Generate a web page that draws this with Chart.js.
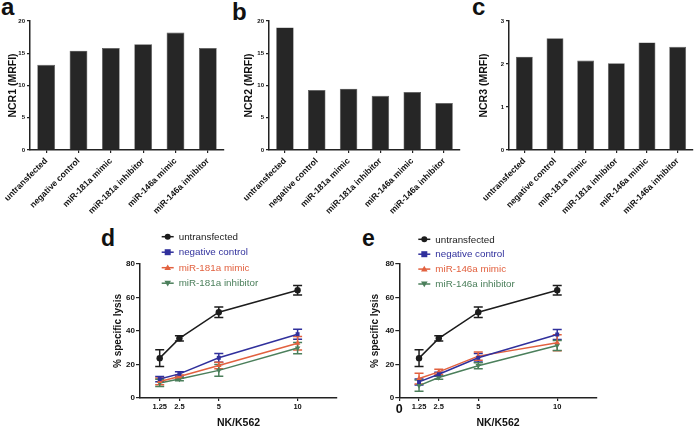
<!DOCTYPE html>
<html>
<head>
<title>NCR expression and NK lysis</title>
<script src="https://cdn.jsdelivr.net/npm/chart.js@4.4.1/dist/chart.umd.min.js"></script>
<style>
    body {
        margin: 0;
        background: #fff;
        width: 700px;
        height: 429px;
        position: relative;
        overflow: hidden;
        font-family: "Liberation Sans", Arial, sans-serif;
    }
    canvas { position: absolute; }
    .tag {
        position: absolute;
        font-weight: bold;
        line-height: 1;
        color: #111;
    }
</style>
</head>
<body>
<div class="tag" style="left:1px;top:-5px;font-size:24px">a</div>
<div class="tag" style="left:232px;top:0px;font-size:24px">b</div>
<div class="tag" style="left:472px;top:-5px;font-size:24px">c</div>
<div class="tag" style="left:101px;top:227px;font-size:23px">d</div>
<div class="tag" style="left:362px;top:227px;font-size:23px">e</div>

<canvas id="chartA" width="232" height="216" style="left:0;top:0"></canvas>
<canvas id="chartB" width="230" height="216" style="left:232px;top:0"></canvas>
<canvas id="chartC" width="238" height="216" style="left:462px;top:0"></canvas>
<canvas id="chartD" width="270" height="219" style="left:80px;top:210px"></canvas>
<canvas id="chartE" width="250" height="219" style="left:360px;top:210px"></canvas>

<script>
    // Gruppen der Balkendiagramme
    const groups = ['untransfected', 'negative control', 'miR-181a mimic',
        'miR-181a inhibitor', 'miR-146a mimic', 'miR-146a inhibitor'];

    // NCR-Expression (MRFI)
    const ncr1 = [13.2, 15.4, 15.8, 16.4, 18.2, 15.8];
    const ncr2 = [19.0, 9.3, 9.5, 8.4, 9.0, 7.3];
    const ncr3 = [2.17, 2.6, 2.08, 2.02, 2.5, 2.4];

    // Lyse-Kurven: NK/K562 Verhaeltnis
    const ratios = [1.25, 2.5, 5, 10];
    const ticksD = [1.25, 2.5, 5, 10];
    const ticksE = [0, 1.25, 2.5, 5, 10];

    const untransfected = [23.8, 35.6, 51.2, 64.3];
    const untransfectedErr = [5.0, 1.6, 3.2, 2.8];

    const negCtrlD = [11.3, 14.4, 24.0, 38.1];
    const negCtrlDErr = [1.6, 1.2, 2.6, 3.0];
    const mimic181 = [9.9, 12.8, 19.4, 32.7];
    const mimic181Err = [2.0, 1.0, 2.0, 4.0];
    const inhib181 = [9.0, 11.3, 16.5, 29.8];
    const inhib181Err = [2.2, 1.0, 3.5, 3.4];

    const negCtrlE = [9.6, 14.2, 24.0, 37.9];
    const negCtrlEErr = [1.8, 1.2, 2.5, 3.0];
    const mimic146 = [11.6, 15.6, 25.0, 33.0];
    const mimic146Err = [3.2, 1.6, 2.5, 4.8];
    const inhib146 = [7.4, 12.2, 19.3, 31.4];
    const inhib146Err = [3.3, 1.0, 1.8, 3.0];

    const colBlack = '#1c1c1c';
    const colBlue = '#30309c';
    const colOrange = '#e2613f';
    const colGreen = '#4b7f5b';

    Chart.defaults.font.family = '"Liberation Sans", Arial, sans-serif';
    Chart.defaults.color = '#111';

    // Fehlerbalken (Mittelwert +/- Fehler) ueber die Skalen zeichnen
    const errorBars = {
        id: 'errorBars',
        beforeDatasetsDraw(chart) {
            const ctx = chart.ctx;
            const xs = chart.scales.x;
            const ys = chart.scales.y;
            chart.data.datasets.forEach(ds => {
                if (!ds.errors) return;
                ctx.save();
                ctx.strokeStyle = ds.borderColor;
                ctx.lineWidth = 1.5;
                ds.data.forEach((p, j) => {
                    const px = xs.getPixelForValue(p.x);
                    const top = ys.getPixelForValue(p.y + ds.errors[j]);
                    const bot = ys.getPixelForValue(p.y - ds.errors[j]);
                    ctx.beginPath();
                    ctx.moveTo(px, top);
                    ctx.lineTo(px, bot);
                    ctx.moveTo(px - 4.5, top);
                    ctx.lineTo(px + 4.5, top);
                    ctx.moveTo(px - 4.5, bot);
                    ctx.lineTo(px + 4.5, bot);
                    ctx.stroke();
                });
                ctx.restore();
            });
        }
    };

    function marker(ctx, style, rot, x, y, r) {
        ctx.beginPath();
        if (style === 'circle') {
            ctx.arc(x, y, r, 0, Math.PI * 2);
        } else if (style === 'rect') {
            ctx.rect(x - r, y - r, r * 2, r * 2);
        } else {
            const s = rot === 180 ? -1 : 1;
            ctx.moveTo(x, y - s * r * 1.1);
            ctx.lineTo(x - r * 1.1, y + s * r * 0.8);
            ctx.lineTo(x + r * 1.1, y + s * r * 0.8);
            ctx.closePath();
        }
        ctx.fill();
    }

    // Legende oben links im Panel
    const panelLegend = {
        id: 'panelLegend',
        afterDraw(chart, args, opts) {
            const ctx = chart.ctx;
            chart.data.datasets.forEach((ds, i) => {
                const y = opts.top + i * opts.rowHeight;
                ctx.save();
                ctx.strokeStyle = ds.borderColor;
                ctx.fillStyle = ds.borderColor;
                ctx.lineWidth = 1.5;
                ctx.beginPath();
                ctx.moveTo(opts.left, y);
                ctx.lineTo(opts.left + 12, y);
                ctx.stroke();
                marker(ctx, ds.pointStyle, ds.pointRotation || 0, opts.left + 6, y, 3);
                ctx.font = '9.8px "Liberation Sans", Arial, sans-serif';
                ctx.textBaseline = 'middle';
                ctx.fillText(ds.label, opts.left + 17, y + 0.5);
                ctx.restore();
            });
        }
    };

    function barChart(id, values, title, max, step, yWidth, titlePad, padRight) {
        return new Chart(document.getElementById(id), {
            type: 'bar',
            data: {
                labels: groups,
                datasets: [{
                    data: values,
                    backgroundColor: '#262626',
                    borderColor: '#555',
                    borderWidth: 0.6,
                    barPercentage: 0.55,
                    categoryPercentage: 1
                }]
            },
            options: {
                responsive: false,
                animation: false,
                layout: { padding: { top: 21, right: padRight, left: 0, bottom: 0 } },
                plugins: { legend: { display: false }, tooltip: { enabled: false } },
                scales: {
                    x: {
                        grid: { drawOnChartArea: false, offset: false, tickLength: 3, color: '#222', lineWidth: 1.2 },
                        border: { color: '#222', width: 1.5 },
                        ticks: {
                            minRotation: 45, maxRotation: 45, autoSkip: false, padding: 3,
                            font: { size: 8.6, weight: 'bold' }
                        },
                        afterFit: s => { s.height = 66; s.paddingLeft = 0; s.paddingRight = 0; }
                    },
                    y: {
                        min: 0,
                        max: max,
                        grid: { drawOnChartArea: false, tickLength: 3, color: '#222', lineWidth: 1.2 },
                        border: { color: '#222', width: 1.5 },
                        ticks: { stepSize: step, padding: 2, font: { size: 6, weight: 'bold' } },
                        title: {
                            display: true, text: title,
                            font: { size: 10.5, weight: 'bold' },
                            padding: { top: titlePad, bottom: 0 }
                        },
                        afterFit: s => { s.width = yWidth; s.paddingTop = 0; s.paddingBottom = 0; }
                    }
                }
            }
        });
    }

    function series(label, values, errors, color, style, rot) {
        return {
            label: label,
            data: ratios.map((r, k) => ({ x: r, y: values[k] })),
            errors: errors,
            borderColor: color,
            backgroundColor: color,
            borderWidth: 1.5,
            pointStyle: style,
            pointRotation: rot,
            pointRadius: style === 'rect' ? 2.8 : 3.2,
            pointBorderWidth: 0
        };
    }

    function lysisChart(id, datasets, xTicks, yWidth, titlePad, padRight, legend) {
        return new Chart(document.getElementById(id), {
            type: 'line',
            data: { datasets: datasets },
            options: {
                responsive: false,
                animation: false,
                layout: { padding: { top: 54, right: padRight, left: 0, bottom: 0 } },
                plugins: {
                    legend: { display: false },
                    tooltip: { enabled: false },
                    panelLegend: legend
                },
                scales: {
                    x: {
                        type: 'linear',
                        min: 0,
                        max: 12.5,
                        afterBuildTicks: s => { s.ticks = xTicks.map(v => ({ value: v })); },
                        grid: { drawOnChartArea: false, tickLength: 3, color: '#222', lineWidth: 1.2 },
                        border: { color: '#222', width: 1.5 },
                        ticks: {
                            padding: 1,
                            callback: v => String(v),
                            font: c => (c.tick && c.tick.value === 0)
                                ? { size: 12.5, weight: 'bold' }
                                : { size: 7.5, weight: 'bold' }
                        },
                        title: {
                            display: true, text: 'NK/K562',
                            font: { size: 10.5, weight: 'bold' },
                            padding: { top: 0, bottom: 0 }
                        },
                        afterFit: s => { s.height = 31; s.paddingLeft = 0; s.paddingRight = 0; }
                    },
                    y: {
                        min: 0,
                        max: 80,
                        grid: { drawOnChartArea: false, tickLength: 4, color: '#222', lineWidth: 1.2 },
                        border: { color: '#222', width: 1.5 },
                        ticks: { stepSize: 20, padding: 1, font: { size: 8, weight: 'bold' } },
                        title: {
                            display: true, text: '% specific lysis',
                            font: { size: 10, weight: 'bold' },
                            padding: { top: titlePad, bottom: 0 }
                        },
                        afterFit: s => { s.width = yWidth; s.paddingTop = 0; s.paddingBottom = 0; }
                    }
                }
            },
            plugins: [errorBars, panelLegend]
        });
    }

    barChart('chartA', ncr1, 'NCR1 (MRFI)', 20, 5, 30, 6.5, 8);
    barChart('chartB', ncr2, 'NCR2 (MRFI)', 20, 5, 37, 10.5, 2);
    barChart('chartC', ncr3, 'NCR3 (MRFI)', 3, 1, 47, 15.5, 7);

    lysisChart('chartD', [
        series('untransfected', untransfected, untransfectedErr, colBlack, 'circle', 0),
        series('negative control', negCtrlD, negCtrlDErr, colBlue, 'rect', 0),
        series('miR-181a mimic', mimic181, mimic181Err, colOrange, 'triangle', 0),
        series('miR-181a inhibitor', inhib181, inhib181Err, colGreen, 'triangle', 180)
    ], ticksD, 60, 32, 13, { left: 81.7, top: 26.7, rowHeight: 15.5 });

    lysisChart('chartE', [
        series('untransfected', untransfected, untransfectedErr, colBlack, 'circle', 0),
        series('negative control', negCtrlE, negCtrlEErr, colBlue, 'rect', 0),
        series('miR-146a mimic', mimic146, mimic146Err, colOrange, 'triangle', 0),
        series('miR-146a inhibitor', inhib146, inhib146Err, colGreen, 'triangle', 180)
    ], ticksE, 39.3, 9, 13.3, { left: 58.3, top: 29.3, rowHeight: 14.9 });
</script>
</body>
</html>
